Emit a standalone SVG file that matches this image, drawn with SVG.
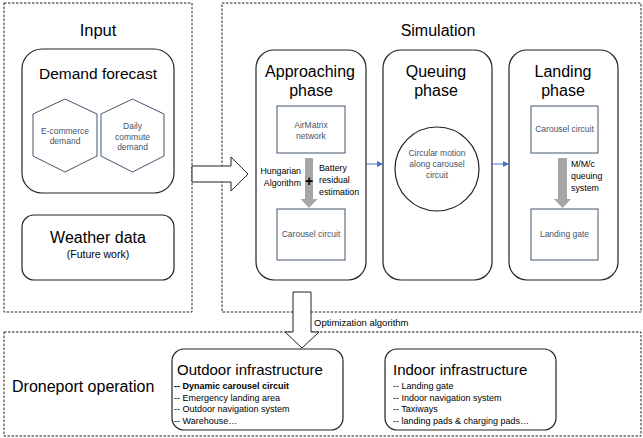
<svg xmlns="http://www.w3.org/2000/svg" width="643" height="438" viewBox="0 0 643 438">
<style>
text{font-family:"Liberation Sans",Arial,sans-serif;fill:#000}
.dash{fill:none;stroke:#222;stroke-width:1;stroke-dasharray:2.5 1.5}
.box{fill:#fff;stroke:#222;stroke-width:1.2}
.inner{fill:#fff;stroke:#44546A;stroke-width:1}
.t16{font-size:16px;text-anchor:middle}
.small{font-size:8.5px;fill:#44546A;text-anchor:middle}
.lab{font-size:8.8px}
.item{font-size:9px}
.gray{fill:#A6A6A6;stroke:none}
.hollow{fill:#fff;stroke:#222;stroke-width:1}
.blue{stroke:#4472C4;stroke-width:1;fill:none;marker-end:url(#ah)}
</style>
<defs>
<marker id="ah" viewBox="0 0 6 6" refX="6" refY="3" markerWidth="6" markerHeight="6" markerUnits="userSpaceOnUse" orient="auto">
<path d="M0,0 L6,3 L0,6 z" fill="#4472C4"/>
</marker>
</defs>
<rect width="643" height="438" fill="#fff"/>

<g id="input-panel">
<rect class="dash" x="4" y="3" width="188" height="309"/>
<text class="t16" x="98" y="36" style="font-size:16.5px">Input</text>
</g>
<g id="simulation-panel">
<rect class="dash" x="222" y="3" width="419" height="309"/>
<text class="t16" x="438" y="36">Simulation</text>
</g>
<g id="droneport-panel">
<rect class="dash" x="4" y="332" width="637" height="104"/>
<text x="12" y="392" style="font-size:16px">Droneport operation</text>
</g>

<g id="demand-forecast">
<rect class="box" x="22" y="49" width="152" height="144" rx="20"/>
<text class="t16" x="98" y="79" style="font-size:15.5px">Demand forecast</text>
</g>
<g id="ecommerce">
<polygon class="inner" points="65,99 97,114 97,156 65,172 33,156 33,114"/>
<text class="small" x="65" y="134">E-commerce</text>
<text class="small" x="65" y="144">demand</text>
</g>
<g id="daily-commute">
<polygon class="inner" points="132.5,99 164,114 164,156 132.5,172 101,156 101,114"/>
<text class="small" x="132.5" y="129">Daily</text>
<text class="small" x="132.5" y="139.5">commute</text>
<text class="small" x="132.5" y="150">demand</text>
</g>
<g id="weather">
<rect class="box" x="22" y="215" width="152" height="65" rx="12"/>
<text class="t16" x="98" y="243">Weather data</text>
<text class="t16" x="98" y="258" style="font-size:10.5px">(Future work)</text>
</g>

<g id="approaching">
<rect class="box" x="256" y="50" width="110" height="230" rx="18"/>
<text class="t16" x="310" y="77">Approaching</text>
<text class="t16" x="311" y="96">phase</text>
</g>
<g id="airmatrix">
<rect class="inner" x="277" y="106" width="68" height="47"/>
<text class="small" x="311" y="128">AirMatrix</text>
<text class="small" x="311" y="138.5">network</text>
</g>
<g id="carousel-approach">
<rect class="inner" x="277" y="209" width="68" height="51"/>
<text class="small" x="311" y="237">Carousel circuit</text>
</g>

<g id="queuing">
<rect class="box" x="383" y="50" width="109" height="230" rx="18"/>
<text class="t16" x="436" y="77">Queuing</text>
<text class="t16" x="436" y="96">phase</text>
</g>
<g id="circular-motion">
<circle cx="437" cy="169" r="42" fill="#fff" stroke="#222" stroke-width="1.2"/>
<text class="small" x="437" y="156">Circular motion</text>
<text class="small" x="437" y="166.5">along carousel</text>
<text class="small" x="437" y="178">circuit</text>
</g>

<g id="landing">
<rect class="box" x="509" y="50" width="109" height="230" rx="18"/>
<text class="t16" x="563" y="77">Landing</text>
<text class="t16" x="563" y="96">phase</text>
</g>
<g id="carousel-landing">
<rect class="inner" x="531" y="106" width="67" height="47"/>
<text class="small" x="564.5" y="132">Carousel circuit</text>
</g>
<g id="landing-gate">
<rect class="inner" x="531" y="209" width="67" height="51"/>
<text class="small" x="564.5" y="237">Landing gate</text>
</g>

<g id="outdoor">
<rect class="box" x="172" y="349" width="171" height="81" rx="12"/>
<text x="177" y="375" style="font-size:15px">Outdoor infrastructure</text>
<text class="item" x="174" y="389" style="font-weight:bold">-- Dynamic carousel circuit</text>
<text class="item" x="174" y="400.5">-- Emergency landing area</text>
<text class="item" x="174" y="412">-- Outdoor navigation system</text>
<text class="item" x="174" y="423.5">-- Warehouse…</text>
</g>
<g id="indoor">
<rect class="box" x="385" y="349" width="171" height="81" rx="12"/>
<text x="393" y="375" style="font-size:15px">Indoor infrastructure</text>
<text class="item" x="393" y="389">-- Landing gate</text>
<text class="item" x="393" y="400.5">-- Indoor navigation system</text>
<text class="item" x="393" y="412">-- Taxiways</text>
<text class="item" x="393" y="423.5">-- landing pads &amp; charging pads…</text>
</g>

<g id="connectors">
<polygon class="hollow" points="192,166 231,166 231,157 248,174 231,191 231,182 192,182"/>
<polygon class="hollow" points="293,292 311,292 311,332 319,332 302,348 285,332 293,332"/>
<text x="314" y="326" style="font-size:9.5px">Optimization algorithm</text>
<line class="blue" x1="366" y1="164" x2="383" y2="164"/>
<line class="blue" x1="492" y1="164" x2="509" y2="164"/>
<polygon class="gray" points="305,158 313,158 313,199 317.5,199 309,208 300.5,199 305,199"/>
<text x="309" y="186" style="font-size:14px;font-weight:bold;text-anchor:middle">+</text>
<text class="lab" x="301" y="174" style="text-anchor:end">Hungarian</text>
<text class="lab" x="301" y="186" style="text-anchor:end">Algorithm</text>
<text class="lab" x="319" y="171">Battery</text>
<text class="lab" x="319" y="183">residual</text>
<text class="lab" x="319" y="195">estimation</text>
<polygon class="gray" points="558,158 567,158 567,199 571,199 562.5,208 554,199 558,199"/>
<text class="lab" x="571" y="167">M/M/c</text>
<text class="lab" x="571" y="179">queuing</text>
<text class="lab" x="571" y="191">system</text>
</g>
</svg>
